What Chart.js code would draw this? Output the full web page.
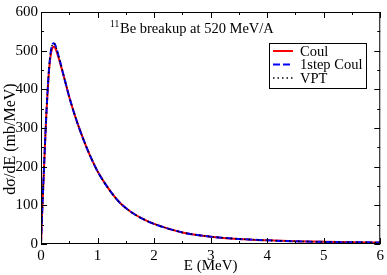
<!DOCTYPE html>
<html>
<head>
<meta charset="utf-8">
<script src="https://cdn.jsdelivr.net/npm/chart.js@4/dist/chart.umd.min.js"></script>
<style>
  body { margin: 0; background: #fff; }
  canvas { display: block; }
</style>
</head>
<body>
<canvas id="chart" width="387" height="275"></canvas>
<script>
// values
var energy = [0, 0.01, 0.02, 0.04, 0.06, 0.08, 0.10, 0.12, 0.14, 0.16, 0.18, 0.20, 0.22, 0.24, 0.26, 0.28, 0.30, 0.35, 0.40, 0.50, 0.60, 0.70, 0.80, 0.90, 1.0, 1.2, 1.4, 1.6, 1.8, 2.0, 2.5, 3.0, 3.5, 4.0, 4.5, 5.0, 5.5, 6.0];
var coul = [0, 40, 80, 150, 220, 290, 350, 400, 445, 475, 495, 506, 510, 509, 504, 496, 487, 462, 435, 380, 332, 290, 252, 218, 188, 142, 106, 82, 65, 52, 30, 19, 13, 9.5, 7, 5.5, 4.5, 4];
var oneStep = [0, 40, 80, 150, 220, 290, 352, 405, 450, 482, 504, 515, 519, 518, 512, 503, 492, 465, 436, 380, 332, 290, 252, 218, 188, 142, 106, 82, 65, 52, 30, 19, 13, 9.5, 7, 5.5, 4.5, 4];
var vpt = [0, 40, 80, 150, 220, 290, 352, 405, 450, 482, 504, 515, 519, 518, 512, 503, 492, 465, 436, 380, 332, 290, 252, 218, 188, 142, 106, 82, 65, 52, 30, 19, 13, 9.5, 7, 5.5, 4.5, 4];
var seriesNames = ['Coul', '1step Coul', 'VPT'];
var xTicks = [0, 1, 2, 3, 4, 5, 6];
var yTicks = [0, 100, 200, 300, 400, 500, 600];

var serif = '"Liberation Serif", "DejaVu Serif", serif';

function points(ys) {
  return energy.map(function (e, i) { return { x: e, y: ys[i] }; });
}

// grace-style frame, inward ticks, titles and legend box
var graceFrame = {
  id: 'graceFrame',
  afterDraw: function (chart) {
    var ctx = chart.ctx, a = chart.chartArea;
    var xs = chart.scales.x, ys = chart.scales.y;
    ctx.save();
    ctx.strokeStyle = '#000';
    ctx.lineWidth = 1;
    ctx.strokeRect(a.left + 0.5, a.top + 0.5, a.right - a.left - 1, a.bottom - a.top - 1);

    ctx.beginPath();
    for (var v = 0; v <= 6; v += 0.5) {
      var px = Math.round(xs.getPixelForValue(v)) + 0.5;
      var len = (v % 1 === 0) ? 6 : 3;
      ctx.moveTo(px, a.bottom); ctx.lineTo(px, a.bottom - len);
      ctx.moveTo(px, a.top); ctx.lineTo(px, a.top + len);
    }
    for (var w = 0; w <= 600; w += 50) {
      var py = Math.round(ys.getPixelForValue(w)) + 0.5;
      var l2 = (w % 100 === 0) ? 6 : 3;
      ctx.moveTo(a.left, py); ctx.lineTo(a.left + l2, py);
      ctx.moveTo(a.right, py); ctx.lineTo(a.right - l2, py);
    }
    ctx.stroke();

    // y axis title
    ctx.fillStyle = '#000';
    ctx.save();
    ctx.translate(11, 139);
    ctx.rotate(-Math.PI / 2);
    ctx.textAlign = 'center';
    ctx.textBaseline = 'middle';
    ctx.font = '16px ' + serif;
    ctx.fillText('dσ/dE (mb/MeV)', 0, 0);
    ctx.restore();

    // title with superscript mass number
    ctx.textBaseline = 'alphabetic';
    ctx.textAlign = 'left';
    ctx.font = '9.5px ' + serif;
    ctx.fillText('11', 110, 27);
    ctx.font = '14.5px ' + serif;
    ctx.fillText('Be breakup at 520 MeV/A', 120, 33);

    // legend
    var lx = 269, ly = 43, lw = 97, lh = 45;
    ctx.fillStyle = '#fff';
    ctx.fillRect(lx, ly, lw, lh);
    ctx.strokeRect(lx + 0.5, ly + 0.5, lw, lh);
    var sets = chart.data.datasets;
    var rows = [51, 64.5, 78];
    for (var i = 0; i < sets.length; i++) {
      var yy = rows[i];
      ctx.beginPath();
      ctx.strokeStyle = sets[i].borderColor;
      ctx.lineWidth = sets[i].borderWidth;
      ctx.setLineDash(sets[i].borderDash || []);
      ctx.moveTo(lx + 4, yy);
      ctx.lineTo(lx + 24, yy);
      ctx.stroke();
      ctx.setLineDash([]);
      ctx.fillStyle = '#000';
      ctx.font = '14.5px ' + serif;
      ctx.textBaseline = 'middle';
      ctx.fillText(sets[i].label, lx + 31, yy + 1);
    }
    ctx.restore();
  }
};

new Chart(document.getElementById('chart'), {
  type: 'line',
  data: {
    datasets: [{
      label: seriesNames[0],
      data: points(coul),
      borderColor: '#ff0000',
      borderWidth: 2,
      order: 2
    }, {
      label: seriesNames[1],
      data: points(oneStep),
      borderColor: '#0000ff',
      borderWidth: 2,
      borderDash: [7, 3],
      order: 1
    }, {
      label: seriesNames[2],
      data: points(vpt),
      borderColor: '#000000',
      borderWidth: 1.5,
      borderDash: [1.5, 3],
      order: 0
    }]
  },
  options: {
    responsive: false,
    animation: false,
    events: [],
    layout: { padding: { top: 6, right: 4, left: 0, bottom: 0 } },
    elements: {
      point: { radius: 0 },
      line: { cubicInterpolationMode: 'monotone', fill: false }
    },
    plugins: {
      legend: { display: false },
      tooltip: { enabled: false }
    },
    scales: {
      x: {
        type: 'linear',
        min: 0,
        max: 6,
        afterFit: function (s) { s.height = 31; },
        afterBuildTicks: function (s) { s.ticks = xTicks.map(function (v) { return { value: v }; }); },
        grid: { display: false, drawTicks: false },
        border: { display: false },
        ticks: { color: '#000', padding: 3, maxRotation: 0, font: { family: serif, size: 15 } },
        title: { display: true, text: 'E (MeV)', color: '#000', padding: { top: 0, bottom: 0 }, font: { family: serif, size: 15 } }
      },
      y: {
        min: 0,
        max: 600,
        afterFit: function (s) { s.width = 41; },
        afterBuildTicks: function (s) { s.ticks = yTicks.map(function (v) { return { value: v }; }); },
        grid: { display: false, drawTicks: false },
        border: { display: false },
        ticks: { color: '#000', padding: 3, font: { family: serif, size: 15 } },
        title: { display: false }
      }
    }
  },
  plugins: [graceFrame]
});
</script>
</body>
</html>
